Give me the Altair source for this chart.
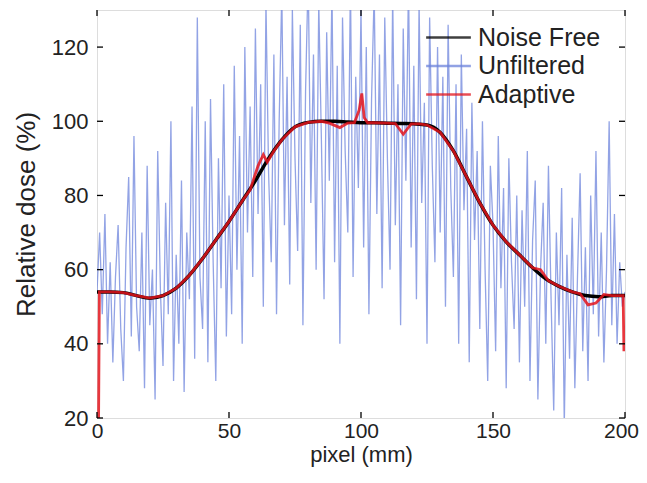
import altair as alt
import pandas as pd

# ---------------- data ----------------
noise_free_x = [0, 5, 10, 15, 20, 25, 30, 35, 40, 45, 50, 55, 60, 65, 70, 75, 80, 85, 90, 95, 100,
                105, 110, 115, 120, 125, 130, 135, 140, 145, 150, 155, 160, 165, 170, 175, 180, 185, 190, 195, 200]
noise_free_y = [54, 54, 53.8, 53, 52.3, 53, 55, 58.5, 63, 68, 73, 78.5, 84, 90, 95, 98.5, 99.7, 100, 100, 99.8, 99.6,
                99.6, 99.5, 99.4, 99.3, 99, 97, 92, 85, 78, 72, 67.5, 64, 60.5, 57.5, 55.5, 54, 53, 52.7, 53, 53]

unfiltered_y = [
    54, 70, 48, 75, 40, 62, 35, 58, 72, 44,
    30, 66, 85, 42, 96, 50, 38, 70, 28, 88,
    45, 60, 25, 92, 55, 34, 78, 48, 100, 30,
    64, 40, 84, 27, 70, 52, 104, 36, 128, 58,
    44, 100, 35, 106, 62, 30, 90, 55, 110, 42,
    80, 48, 115, 60, 96, 40, 120, 70, 104, 58,
    125, 75, 110, 50, 132, 86, 62, 118, 48, 100,
    135, 72, 112, 56, 130, 90, 65, 126, 45, 108,
    140, 78, 118, 60, 132, 95, 52, 124, 84, 136,
    62, 115, 40, 128, 92, 70, 138, 58, 112, 82,
    130, 66, 120, 48, 106, 135, 75, 118, 55, 128,
    90, 60, 134, 72, 110, 45, 125, 84, 138, 66,
    115, 52, 132, 78, 105, 40, 128, 88, 62, 120,
    70, 112, 50, 126, 82, 58, 110, 40, 118, 76,
    98, 35, 105, 68, 92, 44, 100, 60, 30, 88,
    72, 38, 96, 55, 82, 28, 90, 62, 44, 80,
    35, 76, 50, 92, 30, 68, 84, 25, 60, 78,
    40, 88, 52, 22, 70, 45, 82, 18, 64, 36,
    74, 28, 58, 86, 38, 66, 30, 80, 48, 92,
    42, 70, 35, 60, 100, 45, 75, 40, 62, 50,
    54,
]
unfiltered_x = list(range(0, 201))

adaptive_x = [0.6, 0.9, 5, 10, 15, 20, 25, 30, 35, 40, 45, 50, 55, 58, 61, 63, 64.5, 67, 70, 75, 80, 85,
              88, 92, 95, 97.5, 99.3, 100.3, 101.2, 102.5, 105, 110, 113, 116, 119, 122, 125, 130, 135,
              140, 145, 150, 155, 160, 165, 168, 171, 175, 180, 183, 186, 189, 192, 195, 199.3, 199.6]
adaptive_y = [20, 54, 54, 53.8, 53, 52.3, 53, 55, 58.5, 63, 68, 73, 78.5, 81.5, 88, 91, 89, 92, 95, 98.5, 99.7, 100,
              99.5, 98.3, 99.5, 99.6, 103, 107.5, 101, 99.6, 99.6, 99.5, 99.4, 96.5, 99.3, 99.3, 99, 97, 92,
              85, 78, 72, 67.5, 64, 60.5, 60, 57, 55.5, 54, 53.5, 50.5, 51, 53.3, 53, 53, 38]

series_names = ["Noise Free", "Unfiltered", "Adaptive"]
series_colors = ["#000000", "#6d84dc", "#e3141c"]

x_ticks = [0, 50, 100, 150, 200]
y_ticks = [20, 40, 60, 80, 100, 120]

df = pd.concat([
    pd.DataFrame({"x": noise_free_x, "y": noise_free_y, "series": "Noise Free"}),
    pd.DataFrame({"x": unfiltered_x, "y": unfiltered_y, "series": "Unfiltered"}),
    pd.DataFrame({"x": adaptive_x, "y": adaptive_y, "series": "Adaptive"}),
], ignore_index=True)

W, H = 528, 408
TICK = 6

xscale = alt.Scale(domain=[0, 200], nice=False, zero=False)
yscale = alt.Scale(domain=[20, 130], nice=False, zero=False)

x_enc = alt.X("x:Q", scale=xscale, title="pixel (mm)",
              axis=alt.Axis(values=x_ticks, tickSize=0, domain=False, grid=False, labelFlush=False,
                            labelOffset={"expr": "datum.value == 200 ? -4 : 0"},
                            labelPadding=2, labelFontSize=21, titleFontSize=22,
                            titleFontWeight="normal", titlePadding=3, labelColor="#222",
                            titleColor="#222"))
y_enc = alt.Y("y:Q", scale=yscale, title="Relative dose (%)",
              axis=alt.Axis(values=y_ticks, tickSize=0, domain=False, grid=False, labelFlush=False,
                            labelPadding=9, labelFontSize=22, titleFontSize=26,
                            titleFontWeight="normal", titlePadding=12, labelColor="#222",
                            titleColor="#222"))

color_enc = alt.Color("series:N",
                      scale=alt.Scale(domain=series_names, range=series_colors),
                      legend=alt.Legend(title=None, orient="none", legendX=339, legendY=15,
                                        symbolType="M-2,0H2", symbolSize=500, symbolStrokeWidth=2.5,
                                        labelFontSize=25, labelColor="#222",
                                        rowPadding=2.5, labelOffset=17))

base = alt.Chart(df)

unf = base.transform_filter(alt.datum.series == "Unfiltered").mark_line(
    clip=True, opacity=0.75, strokeWidth=1.3).encode(x=x_enc, y=y_enc, color=color_enc)
nf = base.transform_filter(alt.datum.series == "Noise Free").mark_line(
    clip=True, interpolate="monotone", strokeWidth=3.5).encode(x=x_enc, y=y_enc, color=color_enc)
ad = base.transform_filter(alt.datum.series == "Adaptive").mark_line(
    clip=True, opacity=0.85, strokeWidth=2.8).encode(x=x_enc, y=y_enc, color=color_enc)

yt = pd.DataFrame({"y": y_ticks})
xt = pd.DataFrame({"x": x_ticks})
left_t = alt.Chart(yt).mark_rule(color="black", strokeWidth=1.3).encode(
    y=alt.Y("y:Q", scale=yscale), x=alt.value(0), x2=alt.value(TICK))
right_t = alt.Chart(yt).mark_rule(color="black", strokeWidth=1.3).encode(
    y=alt.Y("y:Q", scale=yscale), x=alt.value(W - TICK), x2=alt.value(W))
bot_t = alt.Chart(xt).mark_rule(color="black", strokeWidth=1.3).encode(
    x=alt.X("x:Q", scale=xscale), y=alt.value(H - TICK), y2=alt.value(H))
top_t = alt.Chart(xt).mark_rule(color="black", strokeWidth=1.3).encode(
    x=alt.X("x:Q", scale=xscale), y=alt.value(0), y2=alt.value(TICK))

chart = alt.layer(unf, nf, ad, left_t, right_t, bot_t, top_t).properties(
    width=W, height=H,
    autosize=alt.AutoSizeParams(type="none"),
    padding={"left": 89, "top": 2, "right": 14, "bottom": 57},
).configure_view(
    stroke="#222", strokeWidth=1.8
).configure(
    font="Liberation Sans"
)

chart.save("out.html", embed_options={"renderer": "svg", "actions": False})
